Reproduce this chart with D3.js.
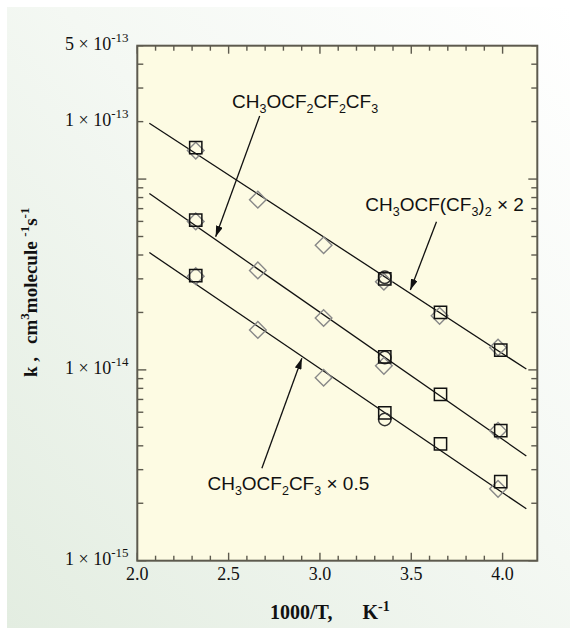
<!DOCTYPE html>
<html><head><meta charset="utf-8">
<script src="https://cdn.jsdelivr.net/npm/d3@7"></script>
<style>body{margin:0;background:#fff}svg{display:block}</style>
</head><body>
<svg id="c" width="570" height="633"></svg>
<script>
// ---------- data (1000/T in K^-1, k in cm3 molecule-1 s-1) ----------
const topSquares  = [[2.32,1.46e-13],[3.355,3.0e-14],[3.66,2.0e-14],[3.99,1.27e-14]];
const topDiamonds = [[2.32,1.41e-13],[2.66,7.8e-14],[3.02,4.5e-14],[3.35,2.9e-14],[3.655,1.92e-14],[3.975,1.31e-14]];
const topCircles  = [[3.355,3.06e-14]];
const midSquares  = [[2.32,6.1e-14],[3.355,1.17e-14],[3.66,7.45e-15],[3.99,4.8e-15]];
const midDiamonds = [[2.32,6.0e-14],[2.66,3.32e-14],[3.02,1.87e-14],[3.35,1.05e-14],[3.975,4.8e-15]];
const midCircles  = [[3.355,1.16e-14]];
const botSquares  = [[2.32,3.12e-14],[3.355,5.95e-15],[3.66,4.1e-15],[3.99,2.6e-15]];
const botDiamonds = [[2.32,3.1e-14],[2.66,1.62e-14],[3.02,9.1e-15],[3.975,2.38e-15]];
const botCircles  = [[3.355,5.5e-15]];
const topLine = [[2.066,1.96e-13],[4.13,1.01e-14]];
const midLine = [[2.066,8.4e-14],[4.13,3.54e-15]];
const botLine = [[2.066,4.12e-14],[4.13,1.87e-15]];
const xDomain = [2.0, 4.19];
const yDomain = [1e-15, 5e-13];
const xMajorTicks = [2.0, 2.5, 3.0, 3.5, 4.0];
const xTickLabels = ["2.0","2.5","3.0","3.5","4.0"];
const yLabelTicks = [1e-15, 1e-14, 2e-13, 5e-13];
const yLabelMant  = ["1","1","1","5"];
const yLabelExp   = ["-15","-14","-13","-13"];
const annotations = [
  {parts:[["CH"],["3","sub"],["OCF"],["2","sub"],["CF"],["2","sub"],["CF"],["3","sub"]], at:[2.519,2.36e-13], from:[2.670,2.14e-13], to:[2.429,4.98e-14]},
  {parts:[["CH"],["3","sub"],["OCF(CF"],["3","sub"],[")"],["2","sub"],[" × 2"]], at:[3.248,6.83e-14], from:[3.638,5.98e-14], to:[3.495,2.62e-14]},
  {parts:[["CH"],["3","sub"],["OCF"],["2","sub"],["CF"],["3","sub"],[" × 0.5"]], at:[2.384,2.35e-15], from:[2.682,3.05e-15], to:[2.901,1.15e-14]}
];

// ---------- layout ----------
const W = 570, H = 633;
const L = 137.3, R = 537.3, T = 45.7, B = 560.7;
const svg = d3.select("#c");
const x = d3.scaleLinear().domain(xDomain).range([L, R]);
const y = d3.scaleLog().domain(yDomain).range([B, T]);

const defs = svg.append("defs");
const g = defs.append("linearGradient").attr("id","bg").attr("x1","0").attr("y1","1").attr("x2","1").attr("y2","0");
g.append("stop").attr("offset","0").attr("stop-color","#e3ede1");
g.append("stop").attr("offset","0.55").attr("stop-color","#f4f8f3");
g.append("stop").attr("offset","1").attr("stop-color","#ffffff");
defs.append("marker").attr("id","ah").attr("markerUnits","userSpaceOnUse")
  .attr("viewBox","0 0 11 7").attr("refX",11).attr("refY",3.5)
  .attr("markerWidth",11).attr("markerHeight",7).attr("orient","auto")
  .append("path").attr("d","M0,0 L11,3.5 L0,7 Z").attr("fill","#111");

svg.append("rect").attr("x",0).attr("y",0).attr("width",W).attr("height",H).attr("fill","#fff");
svg.append("rect").attr("x",7).attr("y",7).attr("width",W-7).attr("height",621).attr("fill","url(#bg)");
svg.append("rect").attr("x",L).attr("y",T).attr("width",R-L).attr("height",B-T).attr("fill","#fdfbe3");

const frameCol = "#5d5a4e";
const tk = svg.append("g").attr("stroke",frameCol).attr("stroke-width",1.4);
// x ticks (bottom and top, inward)
const xMinor = d3.range(21).map(i => 2.0 + i*0.1).filter(v => v <= xDomain[1] + 1e-9);
xMinor.forEach(v => {
  const major = xMajorTicks.some(m => Math.abs(m - v) < 1e-6);
  const len = major ? 8 : 5;
  tk.append("line").attr("x1",x(v)).attr("x2",x(v)).attr("y1",B).attr("y2",B-len);
  tk.append("line").attr("x1",x(v)).attr("x2",x(v)).attr("y1",T).attr("y2",T+len);
});
// y ticks (left and right, inward)
y.ticks().forEach(v => {
  const e = Math.log10(v);
  const major = Math.abs(e - Math.round(e)) < 1e-6;
  const len = major ? 9 : 6;
  tk.append("line").attr("x1",L).attr("x2",L+len).attr("y1",y(v)).attr("y2",y(v));
  tk.append("line").attr("x1",R).attr("x2",R-len).attr("y1",y(v)).attr("y2",y(v));
});
svg.append("rect").attr("x",L).attr("y",T).attr("width",R-L).attr("height",B-T)
  .attr("fill","none").attr("stroke",frameCol).attr("stroke-width",2);

// tick labels
const serif = "'Liberation Serif','Times New Roman',serif";
xMajorTicks.forEach((v,i) => {
  svg.append("text").attr("x",x(v)).attr("y",579.5).attr("text-anchor","middle")
    .attr("font-family",serif).attr("font-size",18).attr("fill","#111").text(xTickLabels[i]);
});
yLabelTicks.forEach((v,i) => {
  const t = svg.append("text").attr("x",128.5).attr("y",y(v)+4.5).attr("text-anchor","end")
    .attr("font-family",serif).attr("font-size",18).attr("fill","#111");
  t.append("tspan").text(yLabelMant[i] + " \u00d7 10");
  t.append("tspan").attr("dy",-8).attr("font-size",13).text(yLabelExp[i]);
});

// axis titles
const xt = svg.append("text").attr("x",270).attr("y",619).attr("font-family",serif)
  .attr("font-size",20).attr("font-weight","bold").attr("fill","#111");
xt.append("tspan").text("1000/T,");
xt.append("tspan").attr("dx",30).text("K");
xt.append("tspan").attr("dy",-8).attr("font-size",14).text("-1");

const yt = svg.append("text").attr("transform","translate(37,377) rotate(-90)")
  .attr("font-family",serif).attr("font-size",19).attr("font-weight","bold").attr("fill","#111");
yt.append("tspan").text("k ,");
yt.append("tspan").attr("dx",13).text("cm");
yt.append("tspan").attr("dy",-8).attr("font-size",13).text("3");
yt.append("tspan").attr("dy",8).text("molecule ");
yt.append("tspan").attr("dy",-8).attr("font-size",13).text("-1");
yt.append("tspan").attr("dy",8).text("s");
yt.append("tspan").attr("dy",-8).attr("font-size",13).text("-1");

// fitted lines
const line = d3.line().x(d => x(d[0])).y(d => y(d[1]));
[topLine, midLine, botLine].forEach(ld => {
  svg.append("path").attr("d",line(ld)).attr("fill","none").attr("stroke","#111").attr("stroke-width",1.3);
});

// markers
const diamondSym = d3.symbol().type(d3.symbolSquare).size(139);
const squareSym = d3.symbol().type(d3.symbolSquare).size(150);
const circleSym = d3.symbol().type(d3.symbolCircle).size(122);
[topDiamonds, midDiamonds, botDiamonds].forEach(arr => {
  svg.append("g").selectAll("path").data(arr).join("path")
    .attr("d",diamondSym).attr("transform",d => `translate(${x(d[0])},${y(d[1])}) rotate(45)`)
    .attr("fill","none").attr("stroke","#888").attr("stroke-width",1.4);
});
[topCircles, midCircles, botCircles].forEach(arr => {
  svg.append("g").selectAll("path").data(arr).join("path")
    .attr("d",circleSym).attr("transform",d => `translate(${x(d[0])},${y(d[1])})`)
    .attr("fill","none").attr("stroke","#333").attr("stroke-width",1.5);
});
[topSquares, midSquares, botSquares].forEach(arr => {
  svg.append("g").selectAll("path").data(arr).join("path")
    .attr("d",squareSym).attr("transform",d => `translate(${x(d[0])},${y(d[1])})`)
    .attr("fill","none").attr("stroke","#111").attr("stroke-width",1.5);
});

// annotations
const sans = "'Liberation Sans',Arial,Helvetica,sans-serif";
annotations.forEach(a => {
  const t = svg.append("text").attr("x",x(a.at[0])).attr("y",y(a.at[1]))
    .attr("font-family",sans).attr("font-size",19).attr("fill","#111");
  let sub = false;
  a.parts.forEach(p => {
    const s = t.append("tspan").text(p[0]);
    const isSub = p[1] === "sub";
    if (isSub && !sub) s.attr("dy",5).attr("font-size",12.5);
    else if (isSub) s.attr("font-size",12.5);
    else if (!isSub && sub) s.attr("dy",-5);
    if (p[0].startsWith(" ")) s.attr("xml:space","preserve").style("white-space","pre");
    sub = isSub;
  });
  svg.append("line").attr("x1",x(a.from[0])).attr("y1",y(a.from[1]))
    .attr("x2",x(a.to[0])).attr("y2",y(a.to[1]))
    .attr("stroke","#111").attr("stroke-width",1.3).attr("marker-end","url(#ah)");
});
</script>
</body></html>
